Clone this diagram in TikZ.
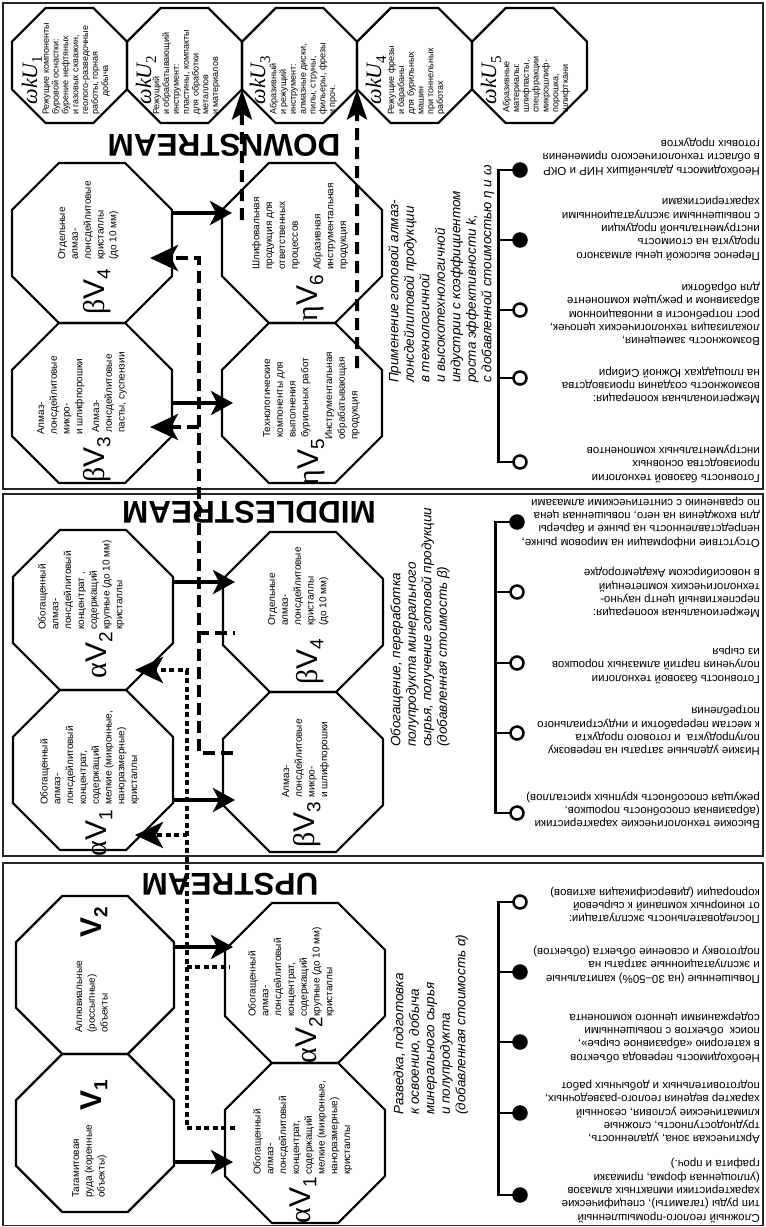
\documentclass[tikz,border=0pt]{standalone}
\usepackage{fontspec}
\setmainfont{Liberation Sans}
\newfontfamily\grk{Liberation Serif}
\usetikzlibrary{shapes.geometric,arrows.meta}
\newcommand{\octlab}[2]{{\grk #1}V\raisebox{-6pt}{\fontsize{19}{19}\selectfont #2}}
\newcommand{\wklab}[1]{ωkU\raisebox{-5pt}{\fontsize{15}{15}\selectfont\upshape #1}}
\begin{document}
\begin{tikzpicture}[x=1pt,y=-1pt,
  oct/.style={regular polygon, regular polygon sides=8, draw, line width=2.2pt, inner sep=0pt, outer sep=0pt, minimum size=#1},
  octtxt/.style={rotate=90, anchor=north west, align=left, inner sep=0pt, font=\fontsize{10}{12.8}\selectfont},
  toptxt/.style={rotate=90, anchor=north west, align=left, inner sep=0pt, font=\fontsize{9}{9.8}\selectfont},
  vlab/.style={rotate=90, inner sep=0pt, font=\fontsize{30}{30}\selectfont},
  wlab/.style={rotate=90, anchor=base, inner sep=0pt, font=\fontsize{22}{22}\selectfont\grk\itshape},
  itxt/.style={rotate=90, anchor=north west, align=left, inner sep=0pt, font=\fontsize{13.5}{15.5}\selectfont\itshape},
  btxt/.style={rotate=180, anchor=north west, align=left, inner sep=0pt, font=\fontsize{11.5}{13.3}\selectfont},
  hdr/.style={rotate=180, inner sep=0pt, font=\fontsize{31.5}{32}\selectfont\bfseries},
  panelframe/.style={line width=1.5pt, black!85},
  solidarr/.style={line width=4pt, -{Stealth[length=22pt,width=24pt,inset=6pt]}},
  dotarr/.style={line width=4pt, dash pattern=on 5pt off 3.5pt, -{Stealth[length=28pt,width=26pt,inset=7pt]}},
  dasharr/.style={line width=4pt, dash pattern=on 12pt off 6pt, -{Stealth[length=28pt,width=26pt,inset=7pt]}},
  uparr/.style={line width=4pt, dash pattern=on 12pt off 7pt, -{Stealth[length=30pt,width=20pt,inset=6pt]}},
  openb/.style={circle, draw, line width=2.5pt, fill=white, minimum size=13pt, inner sep=0pt, outer sep=0pt},
  fullb/.style={openb, fill=black},
  busline/.style={line width=2.5pt},
]
\useasboundingbox (0,0) rectangle (766,1227);

% panels
\draw[panelframe] (3,3) rectangle (763,489);
\draw[panelframe] (3,494) rectangle (763,856);
\draw[panelframe] (3,863) rectangle (763,1225.5);

% top row octagons
\node[oct=124.47pt] (wkUone) at (69.5,65.5) {};
\node[oct=124.47pt] (wkUtwo) at (184.5,65.5) {};
\node[oct=124.47pt] (wkUthree) at (299.5,65.5) {};
\node[oct=124.47pt] (wkUfour) at (414.5,65.5) {};
\node[oct=124.47pt] (wkUfive) at (529.5,65.5) {};

\node[wlab] (lUone) at (37,80) {\wklab{1}};
\node[wlab] (lUtwo) at (151,80) {\wklab{2}};
\node[wlab] (lUthree) at (265,80) {\wklab{3}};
\node[wlab] (lUfour) at (381,80) {\wklab{4}};
\node[wlab] (lUfive) at (496,80) {\wklab{5}};

\node[toptxt] (tUone) at (42.5,115) {Режущие компоненты\\буровой оснастки:\\бурение нефтяных\\и газовых скважин,\\геолого-разведочные\\работы, горная};
\node[toptxt] (tUoneb) at (101.3,97) {добыча};
\node[toptxt] (tUtwo) at (152.5,115) {Режущий\\и обрабатывающий\\инструмент:\\пластины, компакты\\для обработки\\металлов\\и материалов};
\node[toptxt] (tUthree) at (269.5,115) {Абразивный\\и режущий\\инструмент:\\алмазные диски,\\пилы, струны,\\фильеры, фрезы\\и проч.};
\node[toptxt] (tUfour) at (387.5,115) {Режущие фрезы\\и барабаны\\для бурильных\\машин\\при тоннельных\\работах};
\node[toptxt] (tUfive) at (502.5,113) {Абразивные\\материалы:\\шлифпасты,\\спецфракции\\микрошлиф-\\порошка,\\шлифткани};

% headers
\node[hdr] (hD) at (224,145) {DOWNSTREAM};
\node[hdr] (hM) at (249,512) {MIDDLESTREAM};
\node[hdr] (hU) at (230,884) {UPSTREAM};

% downstream octagons
\node[oct=173.18pt] (bVfourD) at (92,243) {};
\node[oct=173.18pt] (bVthreeD) at (92,403) {};
\node[oct=173.18pt] (eVsixD) at (302,243) {};
\node[oct=173.18pt] (eVfiveD) at (302,403) {};
\node[octtxt] (tbVfourD) at (58,260) {Отдельные\\алмаз-\\лонсдейлитовые\\кристаллы\\(до 10 мм)};
\node[octtxt] (tbVthreeDa) at (37,435) {Алмаз-\\лонсдейлитовые\\микро-\\и шлифпорошки};
\node[octtxt] (tbVthreeDb) at (92,433) {Алмаз-\\лонсдейлитовые\\пасты, суспензии};
\node[octtxt] (teVsixDa) at (252,270) {Шлифовальная\\продукция для\\ответственных\\процессов};
\node[octtxt] (teVsixDb) at (313,270) {Абразивная\\инструментальная\\продукция};
\node[octtxt] (teVfiveDa) at (263,438) {Технологические\\компоненты для\\выполнения\\бурильных работ};
\node[octtxt] (teVfiveDb) at (325,440) {Инструментальная\\обрабатывающая\\продукция};
\node[vlab] (lbVfourD) at (97,292) {\octlab{β}{4}};
\node[vlab] (lbVthreeD) at (97,460) {\octlab{β}{3}};
\node[vlab] (leVsixD) at (310,298) {\octlab{η}{6}};
\node[vlab] (leVfiveD) at (311,462) {\octlab{η}{5}};

% middlestream octagons
\node[oct=173.18pt] (aVtwoM) at (93,610) {};
\node[oct=173.18pt] (aVoneM) at (93,770) {};
\node[oct=173.18pt] (bVfourM) at (303,612) {};
\node[oct=173.18pt] (bVthreeM) at (303,772) {};
\node[octtxt] (taVtwoM) at (38,630) {Обогащенный\\алмаз-\\лонсдейлитовый\\концентрат ,\\содержащий\\крупные (до 10 мм)\\кристаллы};
\node[octtxt] (taVoneM) at (40,805) {Обогащенный\\алмаз-\\лонсдейлитовый\\концентрат,\\содержащий\\мелкие (микронные,\\наноразмерные)\\кристаллы};
\node[octtxt] (tbVfourM) at (268,626) {Отдельные\\алмаз-\\лонсдейлитовые\\кристаллы\\(до 10 мм)};
\node[octtxt] (tbVthreeM) at (282,798) {Алмаз-\\лонсдейлитовые\\микро-\\и шлифпорошки};
\node[vlab] (laVtwoM) at (99,655) {\octlab{α}{2}};
\node[vlab] (laVoneM) at (99,833) {\octlab{α}{1}};
\node[vlab] (lbVfourM) at (310,662) {\octlab{β}{4}};
\node[vlab] (lbVthreeM) at (307,825) {\octlab{β}{3}};

% upstream octagons
\node[oct=171.02pt] (VtwoU) at (95,975) {};
\node[oct=171.02pt] (VoneU) at (95,1133) {};
\node[oct=173.18pt] (aVtwoU) at (305,983) {};
\node[oct=173.18pt] (aVoneU) at (305,1143) {};
\node[octtxt] (tVtwoU) at (75,1033) {Аллювиальные\\(россыпные)\\объекты};
\node[octtxt] (tVoneU) at (72,1198) {Тагамитовая\\руда (коренные\\объекты)};
\node[octtxt] (taVtwoU) at (248,1017) {Обогащенный\\алмаз-\\лонсдейлитовый\\концентрат,\\содержащий\\крупные (до 10 мм)\\кристаллы};
\node[octtxt] (taVoneU) at (253,1175) {Обогащенный\\алмаз-\\лонсдейлитовый\\концентрат,\\содержащий\\мелкие (микронные,\\наноразмерные)\\кристаллы};
\node[vlab, font=\fontsize{30}{30}\selectfont\bfseries] (lVtwoU) at (94,922) {V\raisebox{-6pt}{\fontsize{19}{19}\selectfont 2}};
\node[vlab, font=\fontsize{30}{30}\selectfont\bfseries] (lVoneU) at (94,1095) {V\raisebox{-6pt}{\fontsize{19}{19}\selectfont 1}};
\node[vlab] (laVtwoU) at (309,1040) {\octlab{α}{2}};
\node[vlab] (laVoneU) at (303,1200) {\octlab{α}{1}};

% italic captions
\node[itxt] (iD) at (388.3,383) {Применение готовой алмаз-\\лонсдейлитовой продукции\\в технологичной\\и высокотехнологичной\\индустрии с коэффициентом\\роста эффективности k,\\с добавленной стоимостью η и ω};
\node[itxt] (iM) at (390.3,747) {Обогащение, переработка\\полупродукта минерального\\сырья, получение готовой продукции\\(добавленная стоимость β)};
\node[itxt] (iU) at (393.3,1115) {Разведка, подготовка\\к освоению, добыча\\минерального сырья\\и полупродукта\\(добавленная стоимость α)};

% solid arrows
\draw[solidarr] ([yshift=30pt]bVfourD.east) -- ([xshift=10pt,yshift=30pt]eVsixD.west);
\draw[solidarr] (bVthreeD.east) -- ([xshift=11pt]eVfiveD.west);
\draw[solidarr] ([yshift=28pt]aVtwoM.east) -- ([xshift=12pt,yshift=30pt]bVfourM.west);
\draw[solidarr] ([yshift=-30pt]aVoneM.east) -- ([xshift=12pt,yshift=-28pt]bVthreeM.west);
\draw[solidarr] ([yshift=28pt]VtwoU.east) -- ([xshift=8pt,yshift=36pt]aVtwoU.west);
\draw[solidarr] ([yshift=-29pt]VoneU.east) -- ([xshift=8pt,yshift=-19pt]aVoneU.west);

% dotted arrows (upstream -> middlestream)
\draw[dotarr] ([xshift=10pt,yshift=15pt]aVoneU.west) -- ++(-48,0) |- ([xshift=-38pt,yshift=-65pt]aVoneM.east);
\draw[dotarr, dash phase=4.5pt] ([xshift=5pt,yshift=16pt]aVtwoU.west) -- ++(-43,0) |- ([xshift=-38pt,yshift=-60pt]aVtwoM.east);

% dashed arrows (middlestream -> downstream)
\draw[dasharr] ([xshift=10pt,yshift=19pt]bVthreeM.west) -- ++(-34,0) |- ([xshift=-22pt,yshift=-24pt]bVthreeD.east);
\draw[dasharr, dash phase=10pt] ([xshift=12pt,yshift=-21pt]bVfourM.west) -- ++(-36,0) |- ([xshift=-22pt,yshift=-15pt]bVfourD.east);

% dashed arrows (downstream -> top row)
\draw[uparr] ([xshift=20pt,yshift=23pt]eVsixD.west) -- ([yshift=-24pt]wkUthree.west);
\draw[uparr] ([xshift=-25pt,yshift=35pt]eVfiveD.east) -- ([yshift=-24pt]wkUfour.west);

% downstream bullets
\node[fullb] (dA) at (520,170) {};
\node[fullb] (dB) at (520,240) {};
\node[openb] (dC) at (520,310) {};
\node[openb] (dD) at (520,378) {};
\node[openb] (dE) at (520,462) {};
\draw[busline] (dA.west) -- ++(-15,0) |- (dE.west);
\foreach \n in {dB,dC,dD} \draw[busline] (\n.west) -- ++(-15,0);
\node[btxt] (tdA) at (760,175.8) {Необходимость дальнейших НИР и ОКР\\в области технологического применения\\готовых продуктов};
\node[btxt] (tdB) at (760,260.8) {Перенос высокой цены алмазного\\продукта на стоимость\\инструментальной продукции\\с повышенными эксплуатационными\\характеристиками};
\node[btxt] (tdC) at (760,345.8) {Возможность замещения,\\локализация технологических цепочек,\\рост потребности в инновационном\\абразивном и режущем компоненте\\для обработки};
\node[btxt] (tdD) at (760,403.8) {Межрегиональная кооперация:\\возможность создания производства\\на площадках Южной Сибири};
\node[btxt] (tdE) at (760,482.8) {Готовность базовой технологии\\производства основных\\инструментальных компонентов};

% middlestream bullets
\node[fullb] (mA) at (517,522) {};
\node[openb] (mB) at (517,592) {};
\node[openb] (mC) at (517,663) {};
\node[openb] (mD) at (517,733) {};
\node[openb] (mE) at (517,813) {};
\draw[busline] (mA.west) -- ++(-15,0) |- (mE.west);
\foreach \n in {mB,mC,mD} \draw[busline] (\n.west) -- ++(-15,0);
\node[btxt] (tmA) at (760,547.8) {Отсутствие информации на мировом рынке,\\непредставленность на рынке и барьеры\\для вхождения на него, повышенная цена\\по сравнению с синтетическими алмазами};
\node[btxt] (tmB) at (760,617.8) {Межрегиональная кооперация:\\перспективный центр научно-\\технологических компетенций\\в новосибирском Академгородке};
\node[btxt] (tmC) at (760,683.8) {Готовность базовой технологии\\получения партий алмазных порошков\\из сырья};
\node[btxt] (tmD) at (760,755.8) {Низкие удельные затраты на перевозку\\полупродукта \ и готового продукта\\к местам переработки и индустриального\\потребления};
\node[btxt] (tmE) at (760,828.8) {Высокие технологические характеристики\\(абразивная способность порошков,\\режущая способность крупных кристаллов)};

% upstream bullets
\node[openb] (uA) at (520,902) {};
\node[fullb] (uB) at (520,972) {};
\node[fullb] (uC) at (520,1042) {};
\node[fullb] (uD) at (520,1113) {};
\node[fullb] (uE) at (520,1195) {};
\draw[busline] (uA.west) -- ++(-15,0) |- (uE.west);
\foreach \n in {uB,uC,uD} \draw[busline] (\n.west) -- ++(-15,0);
\node[btxt] (tuA) at (760,923.8) {Последовательность эксплуатации:\\от юниорных компаний к сырьевой\\корпорации (диверсификация активов)};
\node[btxt] (tuB) at (760,983.8) {Повышенные (на 30–50\%) капитальные\\и эксплуатационные затраты на\\подготовку и освоение объекта (объектов)};
\node[btxt] (tuC) at (760,1062.8) {Необходимость перевода объектов\\в категорию «абразивное сырье»,\\поиск \ объектов с повышенными\\содержаниями ценного компонента};
\node[btxt] (tuD) at (760,1143.8) {Арктическая зона, удаленность,\\труднодоступность, сложные\\климатические условия, сезонный\\характер ведения геолого-разведочных,\\подготовительных и добычных работ};
\node[btxt] (tuE) at (760,1222.8) {Сложный геолого-промышленный\\тип руды (тагамиты), специфические\\характеристики импактных алмазов\\(уплощенная форма, примазки\\графита и проч.)};
\end{tikzpicture}
\end{document}
